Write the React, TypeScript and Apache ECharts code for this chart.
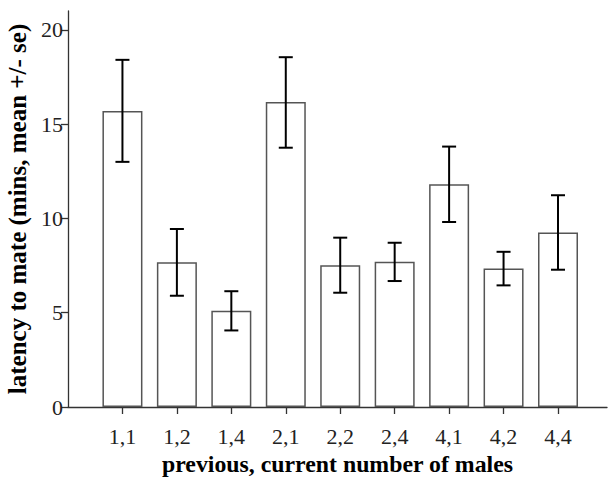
import React, { useEffect, useRef } from "react";
import * as echarts from "echarts";

const categories = ["1,1", "1,2", "1,4", "2,1", "2,2", "2,4", "4,1", "4,2", "4,4"];
const means = [15.7, 7.68, 5.1, 16.17, 7.52, 7.7, 11.81, 7.35, 9.26];
const errLow = [13.0, 5.9, 4.06, 13.75, 6.06, 6.68, 9.81, 6.45, 7.28];
const errHigh = [18.41, 9.44, 6.14, 18.55, 8.98, 8.71, 13.81, 8.23, 11.23];
const yTicks = [0, 5, 10, 15, 20];

const FONT = "'Liberation Serif', 'Times New Roman', serif";

export default function App() {
  const ref = useRef<HTMLDivElement>(null);
  useEffect(() => {
    document.body.style.margin = "0";
    if (!ref.current) return;
    const chart = echarts.init(ref.current, undefined, { renderer: "svg" });
    const idx = categories.map((_, i) => i);
    chart.setOption({
      animation: false,
      backgroundColor: "#ffffff",
      grid: { left: 68, right: 1, top: 11, bottom: 72, containLabel: false, outerBoundsMode: "none" },
      xAxis: {
        type: "value",
        min: -1,
        max: 8.9,
        name: "previous, current number of males",
        nameLocation: "middle",
        nameGap: 43,
        nameTextStyle: { fontFamily: FONT, fontWeight: "bold", fontSize: 23.8, color: "#000" },
        axisLine: { show: true, onZero: false, lineStyle: { color: "#333", width: 1.3 } },
        axisTick: { show: true, customValues: idx, length: 7, lineStyle: { color: "#333", width: 1.3 } },
        axisLabel: {
          customValues: idx,
          formatter: (v: number) => categories[Math.round(v)] ?? "",
          fontFamily: FONT,
          fontSize: 22,
          color: "#222",
          margin: 18,
        },
        splitLine: { show: false },
      },
      yAxis: {
        type: "value",
        min: 0,
        max: 21,
        name: "latency to mate (mins, mean +/- se)",
        nameLocation: "middle",
        nameGap: 30,
        nameTextStyle: { fontFamily: FONT, fontWeight: "bold", fontSize: 25, color: "#000" },
        axisLine: { show: true, onZero: false, lineStyle: { color: "#333", width: 1.3 } },
        axisTick: { show: true, customValues: yTicks, length: 7, lineStyle: { color: "#333", width: 1.3 } },
        axisLabel: {
          customValues: yTicks,
          fontFamily: FONT,
          fontSize: 22,
          color: "#222",
          margin: 5,
        },
        splitLine: { show: false },
      },
      series: [
        {
          type: "bar",
          data: means.map((v, i) => [i, v]),
          barWidth: 40,
          itemStyle: { color: "#ffffff", borderColor: "#555", borderWidth: 1.5 },
          silent: true,
          z: 2,
        },
        {
          type: "custom",
          data: idx.map((i) => [i, errLow[i], errHigh[i]]),
          z: 3,
          renderItem: (params: any, api: any) => {
            const x = api.value(0);
            const lo = api.coord([x, api.value(1)]);
            const hi = api.coord([x, api.value(2)]);
            const hw = 7;
            const style = { stroke: "#000", lineWidth: 2, fill: "none" };
            return {
              type: "group",
              children: [
                { type: "line", shape: { x1: lo[0], y1: lo[1], x2: hi[0], y2: hi[1] }, style },
                { type: "line", shape: { x1: hi[0] - hw, y1: hi[1], x2: hi[0] + hw, y2: hi[1] }, style },
                { type: "line", shape: { x1: lo[0] - hw, y1: lo[1], x2: lo[0] + hw, y2: lo[1] }, style },
              ],
            };
          },
        },
      ],
    });
    return () => chart.dispose();
  }, []);
  return <div ref={ref} style={{ width: 608, height: 479 }} />;
}
